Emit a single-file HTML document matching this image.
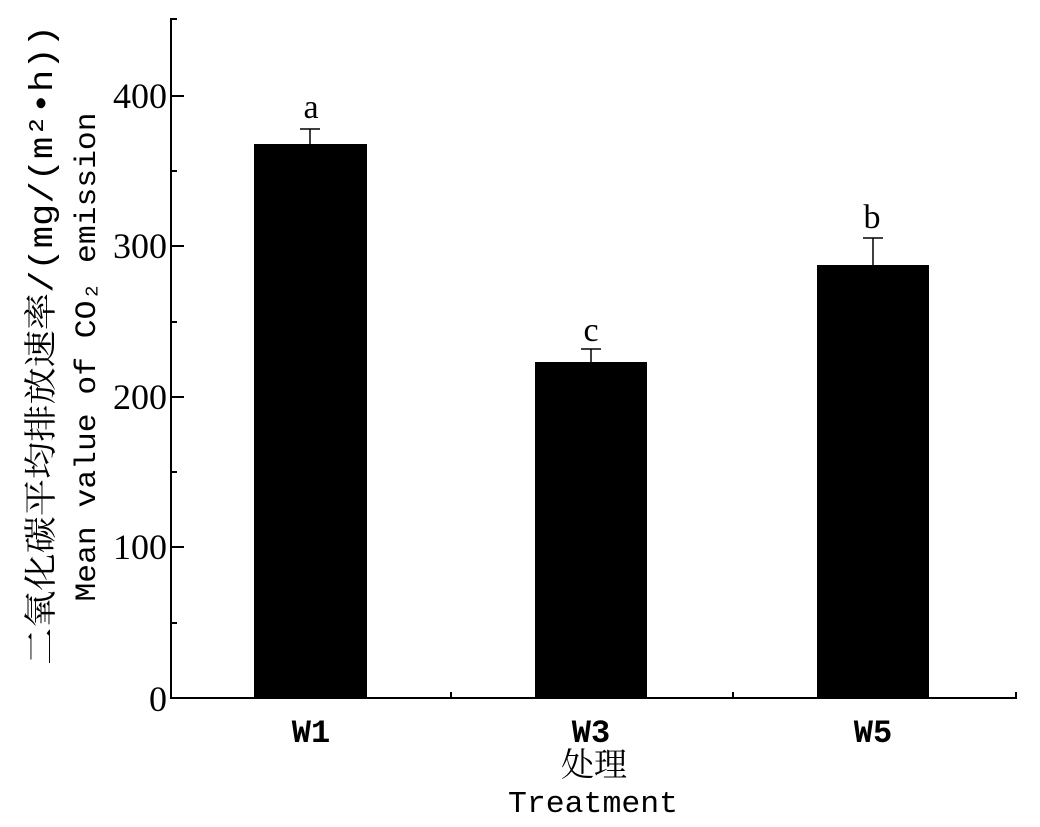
<!DOCTYPE html>
<html><head><meta charset="utf-8"><style>
html,body{margin:0;padding:0;background:#fff;}
svg{display:block;}
</style></head><body>
<svg width="1040" height="827" xmlns="http://www.w3.org/2000/svg">
<g stroke="#000" stroke-width="2" fill="none">
<line x1="171" y1="18" x2="171" y2="699"/>
<line x1="170" y1="698" x2="1017" y2="698"/>
<line x1="171" y1="19" x2="177" y2="19"/>
<line x1="171" y1="96" x2="184" y2="96"/>
<line x1="171" y1="171" x2="177" y2="171"/>
<line x1="171" y1="246" x2="184" y2="246"/>
<line x1="171" y1="322" x2="177" y2="322"/>
<line x1="171" y1="397" x2="184" y2="397"/>
<line x1="171" y1="472" x2="177" y2="472"/>
<line x1="171" y1="547" x2="184" y2="547"/>
<line x1="171" y1="623" x2="177" y2="623"/>
<line x1="451" y1="698" x2="451" y2="692"/>
<line x1="733" y1="698" x2="733" y2="692"/>
<line x1="1016" y1="698" x2="1016" y2="692"/>
</g>
<g fill="#000">
<rect x="254" y="144" width="113" height="554"/>
<rect x="535" y="362" width="112" height="336"/>
<rect x="817" y="265" width="112" height="433"/>
</g>
<g stroke="#000" stroke-width="1.5">
<line x1="310" y1="129" x2="310" y2="144"/><line x1="300" y1="129" x2="320" y2="129"/>
<line x1="591" y1="349" x2="591" y2="362"/><line x1="581" y1="349" x2="601" y2="349"/>
<line x1="873" y1="238" x2="873" y2="265"/><line x1="863" y1="238" x2="883" y2="238"/>
</g>
<g font-family="Liberation Serif, serif" font-size="36" fill="#000" text-anchor="end">
<text x="167" y="108">400</text>
<text x="167" y="258">300</text>
<text x="167" y="409">200</text>
<text x="167" y="559">100</text>
<text x="167" y="711">0</text>
</g>
<g font-family="Liberation Serif, serif" font-size="34" fill="#000" text-anchor="middle">
<text x="311" y="118">a</text>
<text x="591" y="341">c</text>
<text x="872" y="228">b</text>
</g>
<g font-family="Liberation Mono, monospace" font-size="32" font-weight="bold" fill="#000" text-anchor="middle">
<text x="311" y="742">W1</text>
<text x="591" y="742">W3</text>
<text x="873" y="742">W5</text>
</g>
<text x="593" y="812" font-family="Liberation Mono, monospace" font-size="31" text-anchor="middle" textLength="170" lengthAdjust="spacingAndGlyphs">Treatment</text>
<text x="594" y="776" font-family="Liberation Serif, 'Noto Serif CJK SC', serif" font-size="33" text-anchor="middle">处理</text>
<text transform="translate(52,345) rotate(-90)" font-family="Liberation Mono, 'Noto Serif CJK SC', serif" font-size="33" text-anchor="middle" textLength="640" lengthAdjust="spacingAndGlyphs">二氧化碳平均排放速率/(mg/(m²•h))</text>
<text transform="translate(95,357) rotate(-90)" font-family="Liberation Mono, monospace" font-size="30" text-anchor="middle" textLength="489" lengthAdjust="spacingAndGlyphs">Mean value of CO₂ emission</text>
</svg>
</body></html>
